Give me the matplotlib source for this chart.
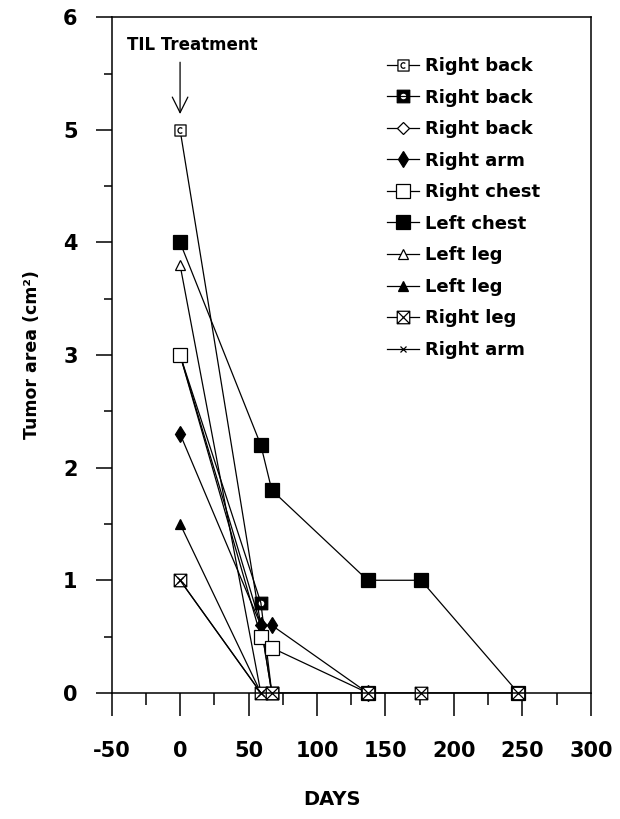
import numpy as np
import matplotlib
matplotlib.use("Agg")
import matplotlib.pyplot as plt
from matplotlib.path import Path

plt.rcParams["font.family"] = ["DejaVu Sans"]
plt.rcParams["font.weight"] = "bold"
plt.rcParams["axes.unicode_minus"] = False

# ---- tumour area (cm^2) vs days after TIL treatment, one list per lesion ----
labels = ["Right back", "Right back", "Right back", "Right arm", "Right chest",
          "Left chest", "Left leg", "Left leg", "Right leg", "Right arm"]

days_rback1 = [0, 67]
area_rback1 = [5.0, 0.0]
days_rback2 = [0, 59, 67]
area_rback2 = [3.0, 0.8, 0.0]
days_rback3 = [0, 59, 67]
area_rback3 = [3.0, 0.6, 0.0]
days_rarm1 = [0, 59, 67, 137]
area_rarm1 = [2.3, 0.6, 0.6, 0.0]
days_rchest = [0, 59, 67, 137]
area_rchest = [3.0, 0.5, 0.4, 0.0]
days_lchest = [0, 59, 67, 137, 176, 247]
area_lchest = [4.0, 2.2, 1.8, 1.0, 1.0, 0.0]
days_lleg1 = [0, 59]
area_lleg1 = [3.8, 0.0]
days_lleg2 = [0, 59]
area_lleg2 = [1.5, 0.0]
days_rleg = [0, 59, 67, 137, 176, 247]
area_rleg = [1.0, 0.0, 0.0, 0.0, 0.0, 0.0]
days_rarm2 = [0, 59]
area_rarm2 = [1.0, 0.0]

xticks = [-50, 0, 50, 100, 150, 200, 250, 300]
yticks = [0, 1, 2, 3, 4, 5, 6]


# ---- custom markers (square outline + inner sign) ----
def sq_path(extra_verts=None, extra_codes=None):
    v = [(-1, -1), (1, -1), (1, 1), (-1, 1), (-1, -1)]
    c = [Path.MOVETO, Path.LINETO, Path.LINETO, Path.LINETO, Path.CLOSEPOLY]
    if extra_verts is not None:
        v += extra_verts
        c += extra_codes
    return Path(v, c)


# crossed square
cross_v = [(-1, -1), (1, 1), (-1, 1), (1, -1)]
cross_c = [Path.MOVETO, Path.LINETO, Path.MOVETO, Path.LINETO]
m_cross = sq_path(cross_v, cross_c)

# square with a "C"
th = np.radians(np.linspace(45, 315, 20))
c_v = list(zip(0.45 * np.cos(th), 0.5 * np.sin(th)))
c_c = [Path.MOVETO] + [Path.LINETO] * (len(c_v) - 1)
m_csq = sq_path(c_v, c_c)

# filled square with a white hole (clockwise circle)
th2 = np.radians(np.linspace(360, 0, 25))
h_v = list(zip(0.55 * np.cos(th2), 0.55 * np.sin(th2)))
h_c = [Path.MOVETO] + [Path.LINETO] * (len(h_v) - 2) + [Path.CLOSEPOLY]
m_hole = sq_path(h_v, h_c)

fig = plt.figure(figsize=(6.2, 8.19), dpi=100)
ax = fig.add_axes([0.180, 0.154, 0.773, 0.825])

lw = 0.9
kw = dict(color="black", lw=lw, clip_on=False, markeredgewidth=0.9)
handles = []
handles += ax.plot(days_rback1, area_rback1, marker=m_csq, ms=8, mfc="white", **kw)
handles += ax.plot(days_rback2, area_rback2, marker=m_hole, ms=9, mfc="black", **kw)
handles += ax.plot(days_rback3, area_rback3, marker="D", ms=6, mfc="white", **kw)
handles += ax.plot(days_rarm1, area_rarm1, marker="d", ms=8, mfc="black", **kw)
handles += ax.plot(days_rchest, area_rchest, marker="s", ms=9.5, mfc="white", **kw)
handles += ax.plot(days_lchest, area_lchest, marker="s", ms=9.5, mfc="black", **kw)
handles += ax.plot(days_lleg1, area_lleg1, marker="^", ms=7, mfc="white", **kw)
handles += ax.plot(days_lleg2, area_lleg2, marker="^", ms=7, mfc="black", **kw)
handles += ax.plot(days_rleg, area_rleg, marker=m_cross, ms=9, mfc="white", **kw)
handles += ax.plot(days_rarm2, area_rarm2, marker="x", ms=5, mfc="black", **kw)

ax.set_xlim(-50, 300)
ax.set_ylim(0, 6)
ax.set_xticks(xticks)
ax.set_xticks(np.arange(-50, 301, 25), minor=True)
ax.set_yticks(yticks)
ax.set_yticks(np.arange(0, 6.01, 0.5), minor=True)
for s in ax.spines.values():
    s.set_linewidth(1.1)
ax.tick_params(axis="x", which="major", direction="out", length=16.5, width=1.1,
               labelsize=15, pad=18)
ax.tick_params(axis="x", which="minor", direction="out", length=8.5, width=1.1)
ax.tick_params(axis="y", which="major", direction="out", length=11.5, width=1.1,
               labelsize=15, pad=13)
ax.tick_params(axis="y", which="minor", direction="out", length=5.8, width=1.1)

ax.set_ylabel("Tumor area (cm²)", fontsize=12.5, fontweight="bold", labelpad=16)
ax.set_xlabel("DAYS", fontsize=14, fontweight="bold", labelpad=21, x=0.46)

ax.text(-39, 5.75, "TIL Treatment", fontsize=12, fontweight="bold",
        ha="left", va="center")
ax.annotate("", xy=(0, 5.14), xytext=(0, 5.60),
            arrowprops=dict(arrowstyle="->,head_length=0.8,head_width=0.4",
                            lw=0.9, color="black", mutation_scale=14,
                            shrinkA=0, shrinkB=0))

ax.legend(handles, labels, loc="upper left", bbox_to_anchor=(0.574, 0.941),
          frameon=False, fontsize=13, numpoints=1, handlelength=1.8,
          handletextpad=0.3, labelspacing=0.75, borderpad=0, borderaxespad=0)

fig.savefig("out.png", dpi=100)
